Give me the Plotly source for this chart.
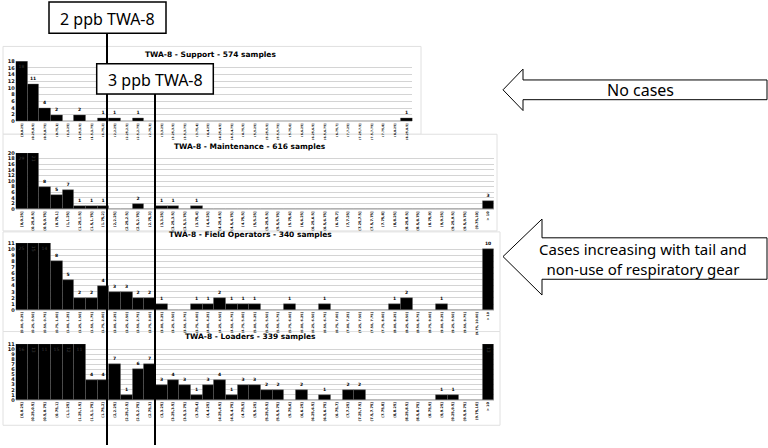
import plotly.graph_objects as go

W, H = 768, 448


def fx(x):
    return x / W


def fy(y):
    return 1 - y / H


# =========================
# DATA
# =========================
support_counts = [18, 11, 4, 2, 0, 2, 0, 1, 1, 0, 1, 0, 0, 0, 0, 0, 0, 0, 0, 0, 0, 0,
                  0, 0, 0, 0, 0, 0, 0, 0, 0, 0, 0, 1]
maintenance_counts = [29, 21, 8, 5, 7, 1, 1, 1, 0, 0, 2, 0, 1, 1, 0, 1, 0, 0, 0, 0, 0,
                      0, 0, 0, 0, 0, 0, 0, 0, 0, 0, 0, 0, 0, 0, 0, 0, 0, 0, 0, 3]
field_counts = [25, 15, 14, 8, 5, 2, 2, 4, 3, 3, 2, 2, 1, 0, 0, 1, 1, 2, 1, 1, 1,
                0, 0, 1, 0, 0, 1, 0, 0, 0, 0, 0, 1, 2, 0, 0, 1, 0, 0, 0, 10]
loaders_counts = [16, 13, 11, 15, 12, 11, 4, 4, 7, 1, 6, 7, 3, 4, 3, 1, 3, 4, 1, 3, 3,
                  2, 2, 0, 2, 0, 1, 0, 2, 2, 0, 0, 0, 0, 0, 0, 1, 1, 0, 0, 13]

bin_edges = ["0", "0.25", "0.5", "0.75", "1", "1.25", "1.5", "1.75", "2", "2.25", "2.5",
             "2.75", "3", "3.25", "3.5", "3.75", "4", "4.25", "4.5", "4.75", "5", "5.25",
             "5.5", "5.75", "6", "6.25", "6.5", "6.75", "7", "7.25", "7.5", "7.75", "8",
             "8.25", "8.5", "8.75", "9", "9.25", "9.5", "9.75", "10"]
bin_edges_2d = ["0.00", "0.25", "0.50", "0.75", "1.00", "1.25", "1.50", "1.75", "2.00",
                "2.25", "2.50", "2.75", "3.00", "3.25", "3.50", "3.75", "4.00", "4.25",
                "4.50", "4.75", "5.00", "5.25", "5.50", "5.75", "6.00", "6.25", "6.50",
                "6.75", "7.00", "7.25", "7.50", "7.75", "8.00", "8.25", "8.50", "8.75",
                "9.00", "9.25", "9.50", "9.75", "10.00"]


def bin_labels(edges, sep, n, tail=True):
    labs = []
    for i in range(n):
        if tail and i == n - 1:
            labs.append("> 10")
        else:
            open_b = "[" if i == 0 else "("
            labs.append(f"{open_b}{edges[i]}{sep}{edges[i + 1]}]")
    return labs


support_bins = bin_labels(bin_edges, ",", len(support_counts), tail=False)
maintenance_bins = bin_labels(bin_edges, ",", len(maintenance_counts))
field_bins = bin_labels(bin_edges_2d, ", ", len(field_counts))
loaders_bins = bin_labels(bin_edges, ",", len(loaders_counts))

panels = [
    ("TWA-8 - Support - 574 samples", support_bins, support_counts, 18, 2),
    ("TWA-8 - Maintenance - 616 samples", maintenance_bins, maintenance_counts, 20, 2),
    ("TWA-8 - Field Operators - 340 samples", field_bins, field_counts, 11, 1),
    ("TWA-8 - Loaders - 339 samples", loaders_bins, loaders_counts, 11, 1),
]

# plot areas in pixels: (x0, x1, y of top tick, ybottom)
cell = 11.67
areas = [
    (15.7, 15.7 + 34 * cell, 59, 120),
    (15.7, 15.7 + 41 * cell, 152, 209),
    (15.7, 15.7 + 41 * cell, 243.3, 311.3),
    (15.7, 15.7 + 41 * cell, 345.7, 402.3),
]
tick_sizes = [3.0, 3.5, 3.2, 3.5]
titles_xy = [(210, 52), (250, 145), (250, 235), (250, 338.5)]
frames = [(3, 421, 44, 133), (3, 497, 133, 231), (3, 500, 232, 333), (3, 500, 333, 428)]

fig = go.Figure()
layout = dict(width=W, height=H, margin=dict(l=0, r=0, t=0, b=0), autosize=False,
              paper_bgcolor="white", plot_bgcolor="white", showlegend=False,
              bargap=0, shapes=[], annotations=[])

for i, (title, bins, counts, ymax, dt) in enumerate(panels):
    k = "" if i == 0 else str(i + 1)
    # axis is truncated at ymax, as in the original charts
    shown = [min(v, ymax) for v in counts]
    fig.add_trace(go.Bar(
        x=bins, y=shown, xaxis="x" + k, yaxis="y" + k,
        marker=dict(color="black", line=dict(color="#666666", width=0.4)),
        text=[str(v) if v else "" for v in counts],
        textposition=["inside" if v >= ymax else "outside" for v in counts],
        insidetextanchor="end",
        textfont=dict(size=4.5, color="black", family="DejaVu Sans"),
        outsidetextfont=dict(size=4.5, color="black", family="DejaVu Sans", weight="bold"),
        insidetextfont=dict(size=4.5, color="#3a3a3a", family="DejaVu Sans"),
        cliponaxis=False,
    ))
    x0, x1, yt, yb = areas[i]
    layout["xaxis" + k] = dict(
        domain=[fx(x0), fx(x1)], anchor="y" + k, type="category",
        tickangle=-90,
        tickfont=dict(size=tick_sizes[i], family="DejaVu Sans", color="#000", weight="bold"),
        showgrid=False, ticks="", showline=True, linecolor="#cccccc", linewidth=0.5,
    )
    layout["yaxis" + k] = dict(
        domain=[fy(yb), fy(yt)], anchor="x" + k, range=[0, ymax], dtick=dt,
        tickfont=dict(size=5, family="DejaVu Sans", color="#111", weight="bold"),
        showgrid=True, gridcolor="#d4d4d4", gridwidth=1, zeroline=False, ticks="",
    )
    tx, ty = titles_xy[i]
    layout["annotations"].append(dict(
        text="<b>" + title + "</b>", x=fx(tx), y=fy(ty), xref="paper", yref="paper",
        xanchor="center", yanchor="middle", showarrow=False,
        font=dict(size=7.5, family="DejaVu Sans", color="black"),
    ))
    fx0, fx1, fy0, fy1 = frames[i]
    layout["shapes"].append(dict(
        type="rect", xref="paper", yref="paper", layer="below",
        x0=fx(fx0), x1=fx(fx1), y0=fy(fy1), y1=fy(fy0),
        line=dict(color="#e0e0e0", width=1), fillcolor="white",
    ))

# threshold lines
for lx, ly in [(107, 30), (155, 92)]:
    layout["shapes"].append(dict(
        type="line", xref="paper", yref="paper", x0=fx(lx), x1=fx(lx),
        y0=fy(ly), y1=fy(H), line=dict(color="black", width=2),
    ))

# threshold boxes
boxes = [("2 ppb TWA-8", 49, 166, -1, 30.7), ("3 ppb TWA-8", 96.7, 213.3, 61.7, 92.3)]
for txt, bx0, bx1, by0, by1 in boxes:
    layout["shapes"].append(dict(
        type="rect", xref="paper", yref="paper",
        x0=fx(bx0), x1=fx(bx1), y0=fy(by1), y1=fy(by0),
        line=dict(color="black", width=1.5), fillcolor="white",
    ))
    layout["annotations"].append(dict(
        text=txt, x=fx((bx0 + bx1) / 2), y=fy((by0 + by1) / 2 + 1), xref="paper",
        yref="paper", xanchor="center", yanchor="middle", showarrow=False,
        font=dict(size=16, family="Noto Sans", color="black"),
    ))


# arrows
def path(pts):
    return "M " + " L ".join(f"{fx(a):.5f},{fy(b):.5f}" for a, b in pts) + " Z"


arrow1 = [(503, 88), (523, 67), (523, 78), (767, 78), (767, 98), (523, 98), (523, 109)]
arrow2 = [(503, 257), (542, 219), (542, 238), (767, 238), (767, 280), (542, 280), (542, 296)]
for pts in [arrow1, arrow2]:
    layout["shapes"].append(dict(
        type="path", xref="paper", yref="paper", path=path(pts),
        line=dict(color="black", width=1), fillcolor="white",
    ))

layout["annotations"].append(dict(
    text="No cases", x=fx(640), y=fy(88), xref="paper", yref="paper", showarrow=False,
    xanchor="center", yanchor="middle",
    font=dict(size=16, family="Noto Sans", color="black"),
))
layout["annotations"].append(dict(
    text="Cases increasing with tail and<br>non-use of respiratory gear",
    x=fx(643), y=fy(259), xref="paper", yref="paper", showarrow=False,
    xanchor="center", yanchor="middle",
    font=dict(size=15, family="Noto Sans", color="black"),
))

fig.update_layout(**layout)
fig.write_html("out.html", config={"displayModeBar": False},
               post_script="document.body.style.margin='0';")
